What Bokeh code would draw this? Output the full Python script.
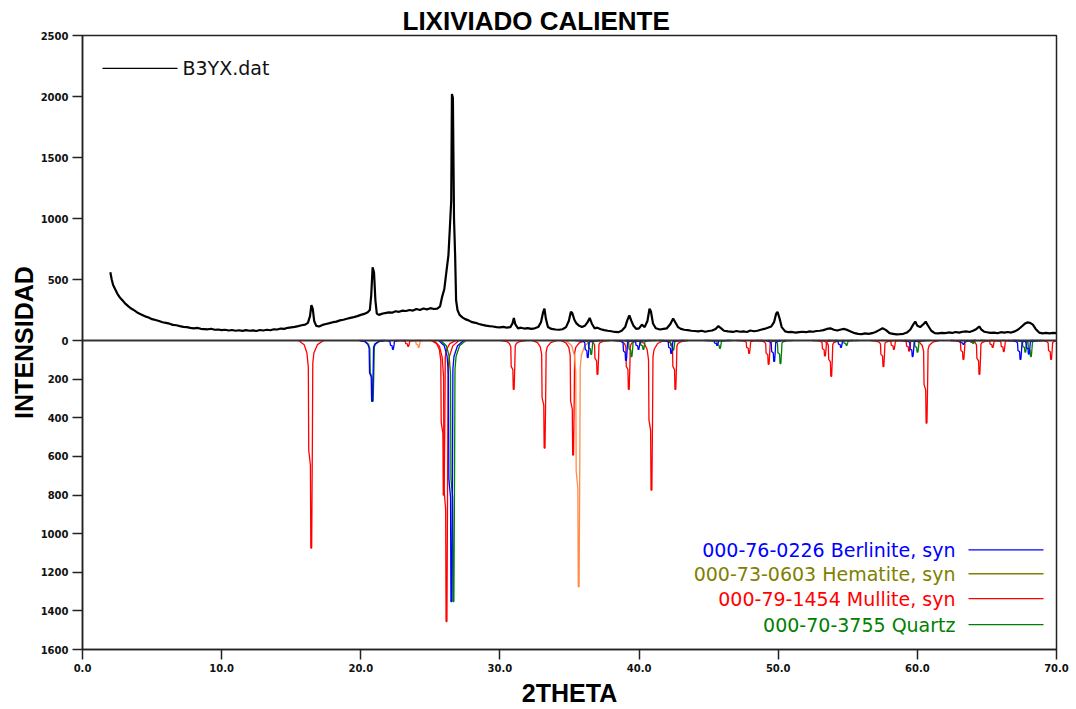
from bokeh.plotting import figure
from bokeh.models import (Range1d, FixedTicker, CustomJSTickFormatter, Span, Label,
                          PrintfTickFormatter)
from bokeh.embed import file_html
from bokeh.resources import INLINE

# ---- measured pattern (2theta, counts) ----
tt = [2.0, 2.1, 2.2, 2.35, 2.5, 2.7, 2.9, 3.1, 3.3, 3.5, 3.75, 4.0, 4.25, 4.5, 4.75, 5.0,
      5.25, 5.5, 5.75, 6.0, 6.25, 6.5, 6.75, 7.0, 7.25, 7.5, 7.75, 8.0, 8.25, 8.5, 8.75,
      9.0, 9.25, 9.5, 9.75, 10.0, 10.25, 10.5, 10.75, 11.0, 11.25, 11.5, 11.75, 12.0,
      12.25, 12.5, 12.75, 13.0, 13.25, 13.5, 13.75, 14.0, 14.25, 14.5, 14.75, 15.0,
      15.25, 15.5, 15.75, 16.0, 16.2, 16.35, 16.45, 16.55, 16.65, 16.8, 17.0, 17.25,
      17.5, 17.75, 18.0, 18.25, 18.5, 18.75, 19.0, 19.25, 19.5, 19.75, 20.0, 20.25,
      20.5, 20.65, 20.75, 20.85, 20.95, 21.05, 21.15, 21.3, 21.5, 21.75, 22.0, 22.25,
      22.5, 22.75, 23.0, 23.25, 23.5, 23.75, 24.0, 24.25, 24.5, 24.75, 25.0, 25.25,
      25.5, 25.7, 25.85, 26.0, 26.15, 26.3, 26.4, 26.5, 26.55, 26.62, 26.7, 26.78,
      26.85, 26.95, 27.1, 27.3, 27.5, 27.75, 28.0, 28.25, 28.5, 28.75, 29.0, 29.25,
      29.5, 29.75, 30.0, 30.25, 30.5, 30.75, 30.9, 31.0, 31.1, 31.3, 31.5, 31.75, 32.0,
      32.25, 32.5, 32.75, 32.95, 33.1, 33.2, 33.3, 33.45, 33.7, 34.0, 34.25, 34.5,
      34.75, 34.95, 35.1, 35.2, 35.35, 35.5, 35.7, 35.9, 36.1, 36.3, 36.45, 36.6, 36.8,
      37.0, 37.25, 37.5, 37.75, 38.0, 38.25, 38.5, 38.75, 39.0, 39.15, 39.3, 39.45,
      39.6, 39.8, 40.0, 40.2, 40.4, 40.6, 40.75, 40.85, 41.0, 41.2, 41.5, 41.75, 42.0,
      42.25, 42.45, 42.6, 42.8, 43.0, 43.25, 43.5, 43.75, 44.0, 44.25, 44.5, 44.75,
      45.0, 45.25, 45.5, 45.7, 45.9, 46.1, 46.4, 46.75, 47.0, 47.25, 47.5, 47.75, 48.0,
      48.25, 48.5, 48.75, 49.0, 49.25, 49.5, 49.7, 49.85, 49.95, 50.1, 50.25, 50.5,
      50.75, 51.0, 51.25, 51.5, 51.75, 52.0, 52.25, 52.5, 52.75, 53.0, 53.25, 53.5,
      53.75, 54.0, 54.25, 54.5, 54.75, 55.0, 55.25, 55.5, 55.75, 56.0, 56.25, 56.5,
      56.75, 57.0, 57.25, 57.5, 57.75, 58.0, 58.25, 58.5, 58.75, 59.0, 59.25, 59.5,
      59.7, 59.85, 60.0, 60.2, 60.45, 60.6, 60.75, 61.0, 61.25, 61.5, 61.75, 62.0,
      62.25, 62.5, 62.75, 63.0, 63.25, 63.5, 63.75, 64.0, 64.25, 64.45, 64.6, 64.8,
      65.0, 65.25, 65.5, 65.75, 66.0, 66.25, 66.5, 66.75, 67.0, 67.25, 67.5, 67.75,
      67.9, 68.1, 68.3, 68.5, 68.75, 69.0, 69.25, 69.5, 69.75, 70.0]
counts = [560, 500, 455, 420, 385, 350, 325, 300, 280, 262, 245, 225, 212, 198, 188, 175,
          168, 160, 150, 144, 138, 128, 125, 118, 112, 110, 104, 100, 103, 96, 94,
          92, 96, 88, 90, 85, 88, 82, 86, 80, 84, 79, 85, 80,
          83, 78, 86, 82, 88, 84, 92, 90, 98, 95, 104, 108,
          112, 118, 125, 130, 145, 200, 290, 260, 160, 120, 115, 128,
          135, 142, 150, 155, 165, 170, 178, 185, 192, 200, 210, 218,
          232, 250, 370, 600, 560, 330, 220, 210, 218, 225, 230, 228,
          240, 235, 245, 242, 250, 245, 258, 250, 262, 255, 265, 258,
          262, 280, 360, 420, 560, 700, 920, 1150, 2020, 1990, 1000, 700,
          330, 250, 210, 190, 175, 165, 150, 145, 135, 128, 122, 118,
          115, 110, 108, 112, 105, 110, 140, 185, 135, 100, 105, 98, 102,
          95, 100, 110, 150, 230, 262, 180, 110, 95, 90, 88, 92,
          110, 160, 235, 225, 170, 140, 120, 110, 120, 150, 185, 140, 100,
          105, 92, 85, 80, 76, 70, 68, 80, 110, 165, 205, 160,
          120, 95, 100, 130, 110, 160, 260, 240, 140, 100, 90, 95, 100,
          135, 180, 150, 110, 95, 88, 85, 80, 78, 75, 80, 72,
          78, 82, 95, 118, 100, 80, 75, 70, 78, 72, 75, 70, 82,
          76, 80, 88, 95, 105, 115, 150, 220, 235, 180, 110, 75,
          68, 70, 64, 68, 72, 68, 75, 72, 78, 80, 85, 95,
          100, 88, 82, 90, 95, 85, 72, 60, 55, 52, 58, 54,
          60, 70, 85, 100, 85, 60, 55, 50, 52, 55, 65, 90,
          130, 155, 120, 110, 135, 155, 125, 80, 60, 58, 62, 60,
          66, 62, 70, 65, 72, 75, 70, 80, 95, 115, 90, 72,
          68, 62, 65, 60, 68, 64, 70, 65, 75, 90, 115, 140,
          148, 145, 130, 95, 65, 58, 62, 58, 62, 60]

# ---- reference phases: peak position (2theta) and intensity ----
berlinite_2t = [20.8, 22.3, 26.5, 36.3, 39.05, 39.95, 42.3, 45.6, 49.7, 54.5, 59.65,
                63.3, 67.4, 68.0]
berlinite_i = [315, 46, 1352, 88, 103, 46, 67, 25, 108, 36, 83, 20, 98, 70]

hematite_2t = [24.15, 35.65]
hematite_i = [36, 1275]

mullite_2t = [16.43, 23.4, 25.95, 26.15, 30.98, 33.2, 35.25, 37.0, 39.25, 40.88, 42.6,
              47.9, 49.3, 53.35, 53.8, 57.55, 58.3, 59.4, 60.65, 63.3, 64.45, 65.4,
              66.2, 69.6]
mullite_i = [1075, 30, 800, 1455, 253, 557, 593, 175, 253, 775, 253,
             67, 123, 80, 185, 135, 46, 55, 428, 98, 175, 36, 57, 98]

quartz_2t = [20.85, 26.65, 36.55, 39.45, 40.3, 42.45, 45.8, 50.15, 54.9, 60.0, 64.0,
             67.75, 68.15]
quartz_i = [315, 1352, 72, 83, 46, 50, 41, 119, 25, 60, 15, 60, 83]

phase_labels = ["000-76-0226 Berlinite, syn", "000-73-0603 Hematite, syn",
                "000-79-1454 Mullite, syn", "000-70-3755 Quartz"]

x_ticks = [0, 10, 20, 30, 40, 50, 60, 70]
top_ticks = [0, 500, 1000, 1500, 2000, 2500]
ref_ticks = [200, 400, 600, 800, 1000, 1200, 1400, 1600]

# ---- geometry: the upper half (0..2500) and the lower half (0..1600) use
# different pixel scales; lower values are stretched by K into upper units.
FRAME_L, FRAME_R, FRAME_T, FRAME_B = 82, 1056, 35, 651
ZERO_PX = 341
TOP_MAX, REF_MAX = 2500, 1600
K = (TOP_MAX * (FRAME_B - ZERO_PX) / (ZERO_PX - FRAME_T)) / REF_MAX
Y_MIN = -REF_MAX * K


def px_x(px):
    return (px - FRAME_L) / (FRAME_R - FRAME_L) * 70.0


def px_y(py):
    return (ZERO_PX - py) / (ZERO_PX - FRAME_T) * TOP_MAX


# peak outline: offsets in degrees and fraction of the peak height
SHAPE_DX = [-0.9, -0.5, -0.3, -0.2, -0.17, -0.05, -0.02, 0.04, 0.09, 0.12, 0.2, 0.45, 0.9]
SHAPE_F = [0.0, 0.02, 0.06, 0.13, 0.53, 0.6, 1.0, 1.0, 0.5, 0.11, 0.06, 0.02, 0.0]


def outlines(centers, heights):
    xs, ys = [], []
    for c, h in zip(centers, heights):
        xs.append([c + d for d in SHAPE_DX])
        ys.append([-h * K * f for f in SHAPE_F])
    return xs, ys


p = figure(width=1076, height=709, output_backend="svg", toolbar_location=None,
           x_range=Range1d(0, 70), y_range=Range1d(Y_MIN, TOP_MAX),
           min_border_left=FRAME_L, min_border_right=1076 - FRAME_R,
           min_border_top=FRAME_T, min_border_bottom=709 - FRAME_B,
           title="LIXIVIADO CALIENTE")
p.background_fill_color = "white"
p.border_fill_color = "white"
p.outline_line_color = "#222222"
p.outline_line_width = 1.5
p.xgrid.visible = False
p.ygrid.visible = False

p.title.text_font = "Liberation Sans"
p.title.text_font_size = "26px"
p.title.text_font_style = "bold"
p.title.text_color = "black"
p.title.align = "left"
p.title.offset = 320
p.title.standoff = 0

TICK_FONT = "DejaVu Sans"
for ax in (p.xaxis[0], p.yaxis[0]):
    ax.major_tick_in = 0
    ax.major_tick_out = 10
    ax.minor_tick_line_color = None
    ax.axis_line_color = "#222222"
    ax.axis_line_width = 1.5
    ax.major_tick_line_color = "#222222"
    ax.major_tick_line_width = 1.5
    ax.major_label_text_font = TICK_FONT
    ax.major_label_text_font_size = "10px"
    ax.major_label_text_font_style = "bold"
    ax.major_label_text_color = "#111111"
    ax.major_label_standoff = 4
    ax.axis_label_text_font = "Liberation Sans"
    ax.axis_label_text_font_size = "25px"
    ax.axis_label_text_font_style = "bold"
    ax.axis_label_text_color = "black"

p.xaxis.ticker = FixedTicker(ticks=x_ticks)
p.xaxis.formatter = PrintfTickFormatter(format="%.1f")
p.xaxis.axis_label = "2THETA"
p.xaxis.axis_label_standoff = 4

p.yaxis.ticker = FixedTicker(ticks=top_ticks + [-t * K for t in ref_ticks])
p.yaxis.formatter = CustomJSTickFormatter(
    args=dict(k=K),
    code="return tick >= 0 ? tick.toFixed(0) : Math.round(-tick / k).toFixed(0);")
p.yaxis.axis_label = "INTENSIDAD"
p.yaxis.axis_label_standoff = 0

# zero line separating measured and reference patterns
p.add_layout(Span(location=0, dimension="width", line_color="#333333", line_width=2))

# reference phases drawn downward
ref_sets = [
    (mullite_2t, mullite_i, "#FF0000"),
    (hematite_2t, hematite_i, "#FF8C48"),
    (quartz_2t, quartz_i, "#008000"),
    (berlinite_2t, berlinite_i, "#0000FF"),
]
for pos, inten, col in ref_sets:
    xs, ys = outlines(pos, inten)
    p.multi_line(xs, ys, line_color=col, line_width=1.3)

# measured pattern
p.line(tt, counts, line_color="black", line_width=2.2)

# legend for the measured pattern
p.line([px_x(102), px_x(177)], [px_y(68), px_y(68)], line_color="black", line_width=1.3)
p.add_layout(Label(x=px_x(182), y=px_y(68), text="B3YX.dat", text_font="DejaVu Sans",
                   text_font_size="19px", text_color="#111111", text_baseline="middle"))

# legend for the reference phases
legend_colors = ["#0000FF", "#808000", "#FF0000", "#008000"]
legend_rows = [551, 575, 600, 626]
for lab, col, row in zip(phase_labels, legend_colors, legend_rows):
    p.line([px_x(968), px_x(1043)], [px_y(row), px_y(row)], line_color=col, line_width=1.3)
    p.add_layout(Label(x=px_x(955), y=px_y(row), text=lab, text_font="DejaVu Sans",
                       text_font_size="19px", text_color=col, text_align="right",
                       text_baseline="middle"))

open("out.html", "w").write(file_html(p, INLINE))
